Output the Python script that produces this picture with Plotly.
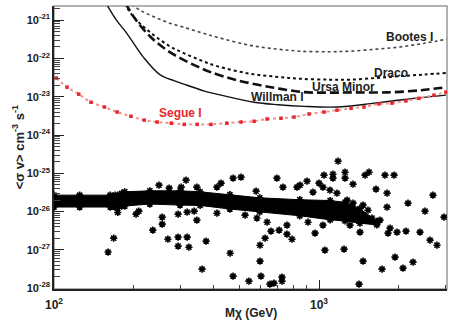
import numpy as np
import plotly.graph_objects as go

# limit curves (mass in GeV, <sigma v> in cm^3 s^-1)
bootes_m = [196, 215, 240, 270, 307, 360, 412, 549, 700, 848, 1100, 1309, 1650, 2021, 2500, 3041]
bootes_sv = [2.6e-21, 1.7e-21, 1.2e-21, 8.6e-22, 6.6e-22, 4.7e-22, 3.6e-22, 2.2e-22, 1.75e-22,
             1.55e-22, 1.5e-22, 1.55e-22, 1.75e-22, 2.0e-22, 2.5e-22, 3.2e-22]

draco_m = [184, 200, 230, 270, 307, 360, 412, 549, 700, 848, 1100, 1309, 1650, 2021, 2500, 3013]
draco_sv = [2.8e-21, 1.2e-21, 4.9e-22, 2.2e-22, 1.4e-22, 8.8e-23, 6.3e-23, 4.0e-23, 3.3e-23,
            2.95e-23, 2.8e-23, 2.8e-23, 3.1e-23, 3.45e-23, 3.8e-23, 4.2e-23]

ursa_m = [186, 202, 230, 265, 301, 345, 390, 491, 659, 878, 1100, 1355, 1807, 2427, 3013]
ursa_sv = [2.8e-21, 1.1e-21, 3.8e-22, 1.7e-22, 1.0e-22, 6.3e-23, 4.4e-23, 2.7e-23, 1.78e-23,
           1.32e-23, 1.28e-23, 1.3e-23, 1.3e-23, 1.48e-23, 1.78e-23]

willman_m = [158, 172, 188, 217, 251, 285, 318, 370, 427, 569, 700, 878, 1169, 1571, 2094, 3013]
willman_sv = [2.6e-21, 1.0e-21, 4.6e-22, 1.1e-22, 3.8e-23, 2.6e-23, 2.0e-23, 1.4e-23, 1.1e-23,
              7.2e-24, 6.2e-24, 5.6e-24, 5.4e-24, 6.6e-24, 8.5e-24, 1.1e-23]

segue_m = [102, 112, 124, 138, 155, 173, 195, 219, 245, 277, 310, 347, 391, 449, 508,
           569, 637, 719, 805, 917, 1045, 1169, 1321, 1479, 1684, 1885, 2128, 2383, 2714, 3013]
segue_sv = [3.09e-23, 1.78e-23, 1.17e-23, 7.2e-24, 5.4e-24, 4.0e-24, 3.1e-24, 2.45e-24, 2.19e-24,
            2.04e-24, 1.9e-24, 1.9e-24, 1.9e-24, 2.04e-24, 2.19e-24, 2.29e-24, 2.63e-24, 2.75e-24,
            2.95e-24, 3.55e-24, 4.0e-24, 4.47e-24, 5.0e-24, 5.4e-24, 6.5e-24, 6.8e-24, 7.8e-24,
            9.1e-24, 1.1e-23, 1.32e-23]

# dense band of model points: upper and lower edges
band_m = [100, 125, 163, 170, 174, 180, 185, 230, 299, 356, 461, 598, 846, 1102, 1254, 1427, 1653]
band_hi = [2.7e-26, 2.7e-26, 2.7e-26, 2.7e-26, 2.7e-26, 3.0e-26, 3.3e-26, 3.5e-26, 3.5e-26,
           3.3e-26, 2.8e-26, 2.3e-26, 2.05e-26, 1.95e-26, 1.75e-26, 1.2e-26, 5.6e-27]
band_lo = [1.32e-26, 1.32e-26, 1.32e-26, 1.32e-26, 9.5e-27, 1.4e-26, 1.4e-26, 1.58e-26, 1.48e-26,
           1.45e-26, 1.17e-26, 9.8e-27, 7.8e-27, 6.1e-27, 5.7e-27, 5.0e-27, 4.5e-27]

# scattered model points
scat_m = [1180, 315, 474, 508, 694, 1044, 1129, 1254, 1129, 1254, 1492, 1545, 1774, 1919, 1344,
          1641, 1806, 2692, 2167, 1806, 2512, 2963, 249, 272, 302, 346, 427, 412, 579, 731, 848,
          901, 1000, 826, 1169, 1035, 1100, 949, 1276, 1344, 1466, 1531, 1585, 1699,
          204, 209, 256, 256, 236, 294, 318, 338, 346, 168, 160, 269, 294, 294, 318, 323, 375, 362,
          412, 526, 583, 637, 659, 707, 757, 757, 791, 626, 599, 462, 599, 474, 604, 544, 653, 676,
          725, 725, 909, 966, 1035, 1053, 1243, 1428, 1466, 1729, 1936, 2075, 2263, 1854, 1822,
          1970, 2130, 2405, 2624, 2788, 1309, 1416, 1416]
scat_sv = [2.08e-25, 6.64e-26, 7.5e-26, 7.96e-26, 7.5e-26, 8.97e-26, 9.5e-26, 1.07e-25, 7.5e-26,
           7.5e-26, 8.97e-26, 1.07e-25, 8.97e-26, 8.97e-26, 5.22e-26, 3.87e-26, 3.04e-26, 2.7e-26,
           1.67e-26, 1.31e-26, 1.03e-26, 7.2e-27, 4.92e-26, 4.11e-26, 4.37e-26, 4.37e-26, 5.55e-26,
           4.37e-26, 3.43e-26, 4.37e-26, 4.92e-26, 6.25e-26, 5.55e-26, 4.37e-26, 3.04e-26, 4.37e-26,
           3.64e-26, 3.23e-26, 2.0e-26, 1.67e-26, 1.48e-26, 1.09e-26, 6.8e-27, 6.0e-27,
           8.6e-27, 1.03e-26, 7.2e-27, 4.72e-27, 3.29e-27, 8.6e-27, 9.7e-27, 1.03e-26, 6.0e-27,
           2.03e-27, 8.8e-28, 1.91e-27, 2.16e-27, 1.26e-27, 2.16e-27, 1.18e-27, 1.7e-27, 3.15e-28,
           9.1e-27, 8.1e-27, 6.8e-27, 5.3e-27, 3.1e-27, 3.29e-27, 4.45e-27, 2.59e-27, 1.91e-27,
           2.03e-27, 1.33e-27, 8.2e-28, 5.1e-28, 2.07e-28, 2.07e-28, 1.53e-28, 1.28e-28, 1.36e-28,
           1.95e-28, 1.53e-28, 5.3e-27, 2.75e-27, 4.45e-27, 9.9e-28, 1.05e-27, 2.92e-27, 5.1e-28,
           3.15e-28, 6.5e-28, 3.35e-28, 4.8e-28, 3.71e-27, 2.75e-27, 2.92e-27, 3.1e-27, 2.92e-27,
           1.8e-27, 1.33e-27, 4.45e-27, 5.65e-27, 1.28e-28]

labels = ["Bootes I", "Draco", "Ursa Minor", "Willman I", "Segue I"]
label_m = [2203, 1871, 1242, 695, 300]
label_sv = [3.6e-22, 4.2e-23, 1.78e-23, 9.6e-24, 3.7e-24]
label_col = ["#222", "#222", "#222", "#222", "#e8262a"]

FONT = "Arial, Liberation Sans, sans-serif"

fig = go.Figure()

# band
fig.add_trace(go.Scatter(x=band_m, y=band_lo, mode="lines", line=dict(color="black", width=1),
                         showlegend=False, hoverinfo="skip"))
fig.add_trace(go.Scatter(x=band_m, y=band_hi, mode="lines", line=dict(color="black", width=1),
                         fill="tonexty", fillcolor="black", showlegend=False, hoverinfo="skip"))
fig.add_trace(go.Scatter(x=band_m + band_m, y=band_hi + band_lo, mode="markers", showlegend=False,
                         hoverinfo="skip",
                         marker=dict(symbol="asterisk-open", size=6, color="black",
                                     line=dict(color="black", width=1.6))))
fig.add_trace(go.Scatter(x=scat_m, y=scat_sv, mode="markers", showlegend=False,
                         marker=dict(symbol="asterisk-open", size=6, color="black",
                                     line=dict(color="black", width=1.6))))

fig.add_trace(go.Scatter(x=bootes_m, y=bootes_sv, mode="lines", line_shape="spline",
                         line=dict(color="#444", width=1.6, dash="dot"), showlegend=False))
fig.add_trace(go.Scatter(x=draco_m, y=draco_sv, mode="lines", line_shape="spline",
                         line=dict(color="#111", width=2, dash="dot"), showlegend=False))
fig.add_trace(go.Scatter(x=ursa_m, y=ursa_sv, mode="lines", line_shape="spline",
                         line=dict(color="#111", width=2.6, dash="9px,4px"), showlegend=False))
fig.add_trace(go.Scatter(x=willman_m, y=willman_sv, mode="lines", line_shape="spline",
                         line=dict(color="#111", width=1.4), showlegend=False))
fig.add_trace(go.Scatter(x=segue_m, y=segue_sv, mode="lines+markers", line_shape="spline",
                         line=dict(color="#f29090", width=2, dash="dot"),
                         marker=dict(symbol="square", size=3.5, color="#e8262a"), showlegend=False))

for t, m, s, c in zip(labels, label_m, label_sv, label_col):
    fig.add_annotation(x=np.log10(m), y=np.log10(s), text="<b>%s</b>" % t, showarrow=False,
                       font=dict(family=FONT, size=12, color=c))

# axis titles
fig.add_annotation(xref="paper", yref="paper", x=-0.092, y=0.5, textangle=-90, showarrow=False,
                   xanchor="center", yanchor="middle",
                   text="<b>&lt;&#963; v&gt; cm<sup>-3</sup> s<sup>-1</sup></b>",
                   font=dict(family=FONT, size=13, color="#222"))
fig.add_annotation(xref="paper", yref="paper", x=0.5, y=-0.085, showarrow=False,
                   xanchor="center", yanchor="middle",
                   text="<b>M&#967; (GeV)</b>", font=dict(family=FONT, size=12, color="#222"))

ydec = list(range(-28, -20))
ymin = [k * 10.0 ** d for d in range(-28, -20) for k in range(2, 10)]
xmin = [k * 10.0 ** d for d in (2, 3) for k in range(2, 10)]

fig.update_xaxes(type="log", range=[2, 3.483], showgrid=False, zeroline=False, automargin=False,
                 showline=True, linecolor="#222", linewidth=1.5, mirror=False,
                 tickvals=[100, 1000], ticktext=["<b>10<sup>2</sup></b>", "<b>10<sup>3</sup></b>"],
                 ticks="inside", ticklen=9, tickcolor="#222", ticklabelstandoff=4,
                 minor=dict(tickvals=xmin, ticks="inside", ticklen=4, tickcolor="#444"),
                 tickfont=dict(family=FONT, size=12, color="#222"))
fig.update_yaxes(type="log", range=[-28.02, -20.63], showgrid=False, zeroline=False, automargin=False,
                 showline=True, linecolor="#222", linewidth=1.5, mirror=False,
                 tickvals=[10.0 ** d for d in ydec],
                 ticktext=["<b>10<sup>%d</sup></b>" % d for d in ydec],
                 ticks="inside", ticklen=10, tickcolor="#222",
                 minor=dict(tickvals=ymin, ticks="inside", ticklen=6, tickcolor="#444"),
                 tickfont=dict(family=FONT, size=11, color="#222"))

fig.add_shape(type="rect", xref="paper", yref="paper", x0=0, y0=0, x1=1, y1=1,
              line=dict(color="#999", width=1.5), layer="below")

fig.update_layout(width=463, height=327, margin=dict(l=54, r=16, t=6, b=38),
                  plot_bgcolor="white", paper_bgcolor="white")

fig.write_html("out.html", config={"displayModeBar": False},
               post_script="document.body.style.margin='0';")
